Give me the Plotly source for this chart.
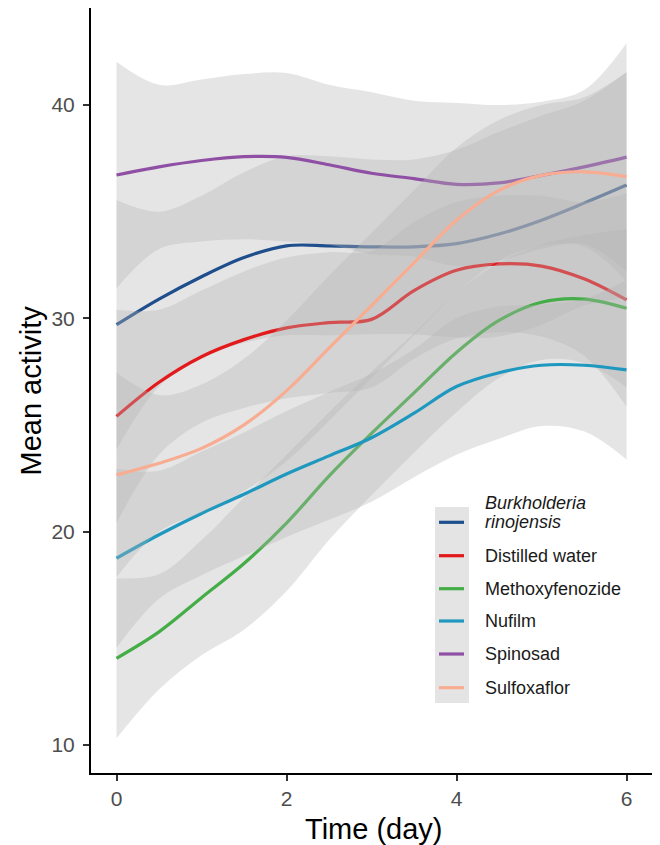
import plotly.graph_objects as go

# Sampling days for the smoothed curves
days = [0, 0.5, 1, 1.5, 2, 2.5, 3, 3.5, 4, 4.5, 5, 5.5, 6]

# Smoothed mean activity per treatment
burkholderia_mean = [29.7, 30.9, 31.95, 32.85, 33.4, 33.4, 33.35, 33.35, 33.5, 33.95, 34.6, 35.4, 36.25]
distilled_mean = [25.4, 27.0, 28.2, 29.0, 29.55, 29.8, 29.95, 31.3, 32.25, 32.55, 32.45, 31.85, 30.86]
methoxy_mean = [14.06, 15.3, 16.9, 18.5, 20.4, 22.6, 24.6, 26.5, 28.4, 29.9, 30.75, 30.9, 30.47]
nufilm_mean = [18.75, 19.85, 20.85, 21.75, 22.7, 23.55, 24.4, 25.55, 26.8, 27.45, 27.8, 27.8, 27.58]
spinosad_mean = [36.72, 37.1, 37.4, 37.58, 37.55, 37.2, 36.8, 36.55, 36.28, 36.35, 36.7, 37.1, 37.56]
sulfoxaflor_mean = [22.66, 23.2, 23.9, 25.0, 26.6, 28.6, 30.6, 32.6, 34.6, 36.0, 36.7, 36.87, 36.64]

# Half-width of the confidence band around each curve
burkholderia_ci = [5.85, 4.1, 3.8, 4.0, 4.2, 4.2, 4.1, 4.1, 4.4, 4.8, 4.9, 4.8, 5.3]
distilled_ci = [5.0, 3.4, 3.1, 3.2, 3.3, 3.3, 3.2, 3.2, 3.2, 3.2, 3.3, 3.6, 5.0]
methoxy_ci = [3.75, 2.7, 2.7, 3.1, 3.2, 3.0, 2.9, 2.8, 2.8, 2.7, 2.7, 3.0, 3.7]
nufilm_ci = [4.2, 3.0, 2.9, 2.9, 2.95, 3.0, 3.0, 3.0, 3.2, 3.1, 2.85, 3.1, 4.2]
spinosad_ci = [5.31, 3.85, 3.8, 3.87, 3.95, 3.75, 3.8, 3.65, 3.82, 3.65, 3.45, 3.6, 5.34]
sulfoxaflor_ci = [4.8, 3.2, 3.0, 3.1, 3.3, 3.4, 3.4, 3.4, 3.4, 3.3, 3.3, 3.5, 4.9]

treatments = ["Burkholderia rinojensis", "Distilled water", "Methoxyfenozide",
              "Nufilm", "Spinosad", "Sulfoxaflor"]
legend_labels = ["<i>Burkholderia</i>", "Distilled water", "Methoxyfenozide",
                 "Nufilm", "Spinosad", "Sulfoxaflor"]
colors = ["#1f4e8c", "#e31a1c", "#44ad47", "#1f98bf", "#8f4fa5", "#f8ad92"]
means = [burkholderia_mean, distilled_mean, methoxy_mean, nufilm_mean, spinosad_mean, sulfoxaflor_mean]
cis = [burkholderia_ci, distilled_ci, methoxy_ci, nufilm_ci, spinosad_ci, sulfoxaflor_ci]

ribbon_fill = "rgba(180,180,180,0.35)"
font_family = "Liberation Sans, Arial, sans-serif"

fig = go.Figure()

# Each treatment: ribbon first, then its curve (later ribbons cover earlier curves)
for name, color, mean, ci in zip(treatments, colors, means, cis):
    lower = [m - c for m, c in zip(mean, ci)]
    upper = [m + c for m, c in zip(mean, ci)]
    fig.add_trace(go.Scatter(x=days, y=lower, mode="lines",
                             line=dict(width=0, shape="spline", smoothing=1.0),
                             hoverinfo="skip", showlegend=False))
    fig.add_trace(go.Scatter(x=days, y=upper, mode="lines", fill="tonexty",
                             fillcolor=ribbon_fill,
                             line=dict(width=0, shape="spline", smoothing=1.0),
                             hoverinfo="skip", showlegend=False))
    fig.add_trace(go.Scatter(x=days, y=mean, mode="lines", name=name,
                             line=dict(color=color, width=3.2, shape="spline", smoothing=1.0),
                             showlegend=False))

# Legend drawn by hand: grey key column, coloured keys, labels
plot_left, plot_right, plot_top, plot_bottom = 91, 652, 8, 773
pw = plot_right - plot_left
ph = plot_bottom - plot_top


def px_x(px):
    return (px - plot_left) / pw


def px_y(py):
    return (plot_bottom - py) / ph


shapes = [dict(type="rect", xref="paper", yref="paper",
               x0=px_x(435), x1=px_x(469), y0=px_y(703), y1=px_y(507),
               fillcolor="#e4e4e4", line=dict(width=0), layer="above")]
key_rows = [522.3, 555.7, 588.7, 621.0, 654.0, 687.7]
annotations = []
for label, color, row in zip(legend_labels, colors, key_rows):
    shapes.append(dict(type="line", xref="paper", yref="paper",
                       x0=px_x(439), x1=px_x(464), y0=px_y(row), y1=px_y(row),
                       line=dict(color=color, width=3.2), layer="above"))
for i, (label, row) in enumerate(zip(legend_labels, key_rows)):
    text_row = 503.3 if i == 0 else row
    annotations.append(dict(text=label, xref="paper", yref="paper",
                            x=px_x(483), y=px_y(text_row), xanchor="left", yanchor="middle",
                            showarrow=False, font=dict(size=18, color="#1a1a1a", family=font_family)))
annotations.append(dict(text="<i>rinojensis</i>", xref="paper", yref="paper",
                        x=px_x(483), y=px_y(522.3), xanchor="left", yanchor="middle",
                        showarrow=False, font=dict(size=18, color="#1a1a1a", family=font_family)))

# Axis titles
annotations.append(dict(text="Time (day)", xref="paper", yref="paper",
                        x=px_x(374), y=px_y(829), xanchor="center", yanchor="middle",
                        showarrow=False, font=dict(size=29, color="black", family=font_family)))
annotations.append(dict(text="Mean activity", xref="paper", yref="paper",
                        x=px_x(30), y=0.5, xanchor="center", yanchor="middle", textangle=-90,
                        showarrow=False, font=dict(size=29, color="black", family=font_family)))

axis_common = dict(showgrid=False, zeroline=False, showline=True, linecolor="black", linewidth=2,
                   ticks="outside", ticklen=6, tickwidth=1.6, tickcolor="#333333",
                   tickfont=dict(size=21, color="#4d4d4d", family=font_family))

fig.update_layout(
    width=660, height=845,
    margin=dict(l=plot_left, r=660 - plot_right, t=plot_top, b=845 - plot_bottom),
    plot_bgcolor="white", paper_bgcolor="white",
    xaxis=dict(range=[-0.3, 6.3], tickvals=[0, 2, 4, 6], **axis_common),
    yaxis=dict(range=[8.68, 44.55], tickvals=[10, 20, 30, 40], ticklabelstandoff=4, **axis_common),
    shapes=shapes, annotations=annotations,
    showlegend=False,
)

fig.write_html("out.html")
